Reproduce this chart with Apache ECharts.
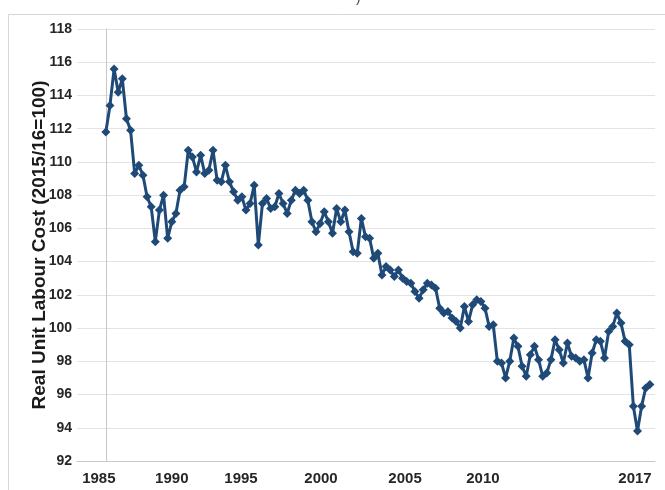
<!DOCTYPE html>
<html>
<head>
<meta charset="utf-8">
<script src="https://cdn.jsdelivr.net/npm/echarts@6/dist/echarts.min.js"></script>
<style>
  html, body { margin: 0; padding: 0; background: #fff; }
  #chart { width: 665px; height: 490px; }
</style>
</head>
<body>
<div id="chart"></div>
<script>
// Quarterly real unit labour cost index (2015/16 = 100)
const rulcValues = [
  111.8, 113.4, 115.6, 114.2, 115.0, 112.6, 111.9, 109.3, 109.8, 109.2,
  107.9, 107.3, 105.2, 107.1, 108.0, 105.4, 106.4, 106.9, 108.3, 108.5,
  110.7, 110.3, 109.4, 110.4, 109.3, 109.5, 110.7, 108.9, 108.8, 109.8,
  108.8, 108.2, 107.7, 107.9, 107.1, 107.5, 108.6, 105.0, 107.5, 107.8,
  107.2, 107.3, 108.1, 107.5, 106.9, 107.7, 108.3, 108.1, 108.3, 107.7,
  106.4, 105.8, 106.3, 107.0, 106.4, 105.7, 107.2, 106.4, 107.1, 105.8,
  104.6, 104.5, 106.6, 105.5, 105.4, 104.2, 104.5, 103.2, 103.7, 103.5,
  103.1, 103.5, 103.0, 102.8, 102.7, 102.2, 101.8, 102.3, 102.7, 102.6,
  102.4, 101.2, 100.9, 101.0, 100.6, 100.4, 100.0, 101.3, 100.4, 101.4,
  101.7, 101.6, 101.2, 100.1, 100.2, 98.0, 97.9, 97.0, 98.0, 99.4,
  98.9, 97.7, 97.1, 98.4, 98.9, 98.1, 97.1, 97.3, 98.1, 99.3,
  98.7, 97.9, 99.1, 98.3, 98.2, 98.0, 98.1, 97.0, 98.5, 99.3,
  99.2, 98.2, 99.8, 100.1, 100.9, 100.3, 99.2, 99.0, 95.3, 93.8,
  95.3, 96.4, 96.6
];

// x-axis tick labels (shown below the plot)
const xTickLabels = ['1985', '1990', '1995', '2000', '2005', '2010', '2017'];
// y-axis range and step
const yMin = 92, yMax = 118, yStep = 2;
const yAxisTitle = 'Real Unit Labour Cost (2015/16=100)';

// axis layout: where each x tick label sits, in quarter-index units
const xTickAt = [-1.7, 16.0, 32.8, 52.2, 72.6, 91.5, 128.4];

const seriesData = rulcValues.map((v, i) => [i, v]);

const chart = echarts.init(document.getElementById('chart'), null, { renderer: 'canvas' });
const FONT = 'Liberation Sans';
const option = {
  animation: false,
  backgroundColor: '#ffffff',
  grid: { left: 77, right: 10, top: 29, bottom: 29, containLabel: false },
  xAxis: {
    type: 'value',
    min: -7,
    max: 133.25,
    splitLine: { show: false },
    axisLine: { show: true, lineStyle: { color: '#c8c8c8', width: 1 } },
    axisTick: { show: false },
    axisLabel: {
      customValues: xTickAt,
      formatter: function (val) {
        let best = 0, bd = Infinity;
        xTickAt.forEach((p, k) => { const d = Math.abs(p - val); if (d < bd) { bd = d; best = k; } });
        return xTickLabels[best];
      },
      margin: 10,
      color: '#262626',
      fontFamily: FONT,
      fontWeight: 'bold',
      fontSize: 15
    }
  },
  yAxis: {
    type: 'value',
    min: yMin,
    max: yMax,
    interval: yStep,
    name: yAxisTitle,
    nameLocation: 'middle',
    nameGap: 28,
    nameMoveOverlap: false,
    nameRotate: 90,
    nameTextStyle: {
      color: '#1a1a1a',
      fontFamily: FONT,
      fontWeight: 'bold',
      fontSize: 19
    },
    axisLine: { show: true, lineStyle: { color: '#c8c8c8', width: 1 } },
    axisTick: { show: false },
    splitLine: { show: true, lineStyle: { color: '#e3e3e3', width: 1 } },
    axisLabel: {
      margin: 5,
      color: '#262626',
      fontFamily: FONT,
      fontWeight: 'bold',
      fontSize: 14
    }
  },
  graphic: [
    {
      type: 'rect',
      shape: { x: 8.5, y: 14.5, width: 700, height: 520 },
      style: { fill: 'none', stroke: '#d6d6d6', lineWidth: 1 },
      silent: true,
      z: -1
    },
    {
      type: 'text',
      left: 356,
      top: -9,
      style: { text: ')', fill: '#444', font: '14px ' + FONT }
    }
  ],
  series: [
    {
      type: 'line',
      data: seriesData,
      symbol: 'diamond',
      symbolSize: 9,
      showSymbol: true,
      lineStyle: { color: '#1f4a78', width: 3 },
      itemStyle: { color: '#1f4a78' },
      emphasis: { disabled: true }
    }
  ]
};
chart.setOption(option);
</script>
</body>
</html>
